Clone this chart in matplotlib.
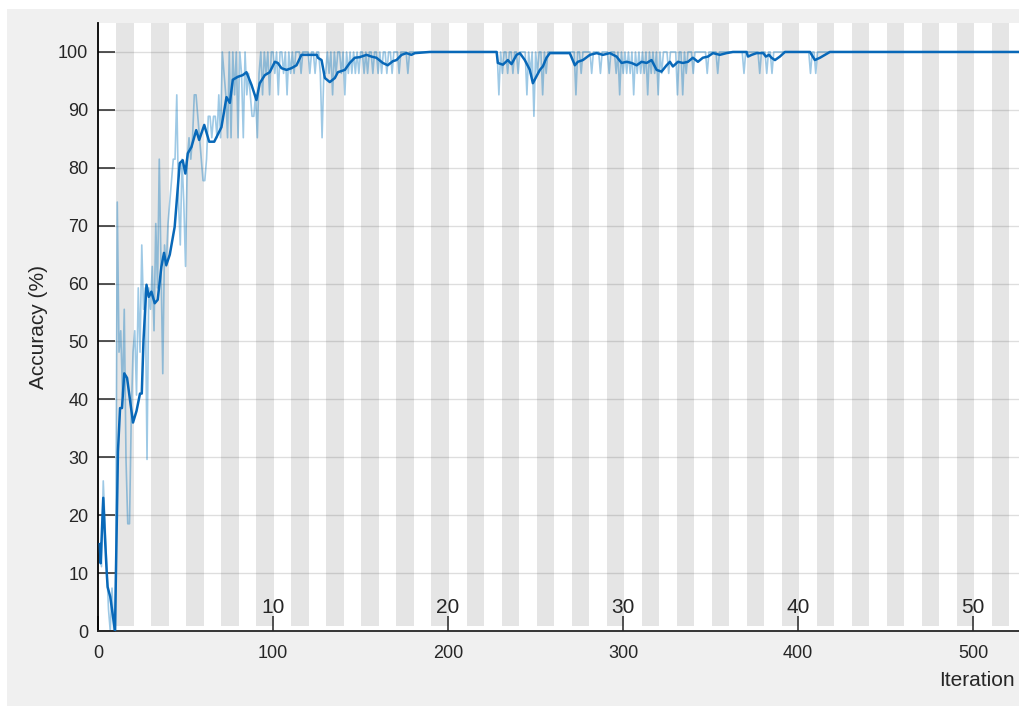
import numpy as np
import matplotlib.pyplot as plt
from matplotlib.patches import Rectangle

plt.rcParams['font.family'] = ['Liberation Sans', 'DejaVu Sans']

# mini-batch of 27 images -> accuracy steps of 100/27 %
batch_size = 27
iters_per_epoch = 10
last_iteration = 530

# correct predictions per mini-batch, iterations 1..190
raw_correct_early = [
    4, 3, 7, 5, 3, 1, 0, 2, 0, 0,
    20, 13, 14, 11, 15, 8, 5, 5, 10, 13,
    14, 11, 16, 13, 18, 15, 16, 8, 16, 15,
    17, 14, 19, 16, 22, 17, 12, 18, 17, 19,
    20, 21, 22, 22, 25, 20, 18, 22, 20, 17,
    22, 23, 22, 23, 25, 25, 24, 23, 22, 21,
    21, 22, 24, 24, 23, 24, 24, 23, 25, 23,
    27, 26, 25, 23, 27, 23, 27, 25, 27, 23,
    27, 26, 23, 27, 25, 26, 25, 24, 24, 25,
    23, 26, 27, 25, 27, 26, 27, 25, 27, 27,
    26, 27, 25, 27, 27, 26, 27, 25, 27, 26,
    27, 26, 27, 27, 27, 26, 27, 27, 27, 27,
    26, 27, 27, 26, 27, 27, 26, 23, 26, 26,
    27, 26, 27, 25, 27, 26, 27, 27, 26, 27,
    25, 27, 26, 27, 26, 27, 26, 27, 26, 27,
    27, 26, 27, 26, 27, 27, 26, 27, 27, 26,
    27, 26, 27, 27, 26, 27, 27, 26, 27, 27,
    27, 26, 27, 27, 27, 27, 26, 27, 27, 27,
    27, 27, 27, 27, 27, 27, 27, 27, 27, 27,
]

# later iterations are 27/27 except these
dip_iters = [229, 231, 234, 237, 240, 245, 247, 249, 251, 254, 256,
             273, 276, 282, 287, 292, 296, 298, 300, 302, 304, 306,
             308, 310, 312, 314, 316, 318, 320, 322, 326, 331, 334,
             336, 340, 348, 354, 369, 378, 382, 385, 407, 410]
dip_correct = [25, 26, 26, 26, 26, 25, 26, 24, 26, 25, 26,
               25, 26, 26, 26, 26, 26, 25, 26, 26, 26, 25,
               26, 26, 26, 25, 26, 26, 25, 26, 26, 25, 25,
               26, 26, 26, 26, 26, 26, 26, 26, 26, 26]

# smoothed accuracy
smooth_iter = [1, 1.5, 3, 4, 5, 5.5, 7, 9.7, 11.4, 12.6, 13.7, 15, 16.6, 18,
               20, 22, 24, 25, 26, 27.7, 29, 30.5, 32.4, 34.1, 36.2, 37.7,
               39, 41, 43.8, 46.7, 48.4, 49.9, 51.3, 53.4, 56.1, 57.8, 60.7,
               63.5, 66.4, 70.5, 73.4, 75.3, 77, 79.8, 82.7, 84.8, 87.7,
               90.5, 92.4, 95.3, 98.1, 101, 102.7, 104.8, 107.7, 110.5,
               113.4, 116.2, 125, 125.6, 127.7, 129.6, 132.4, 135.3, 137,
               141, 143.8, 146.7, 149.5, 153.4, 156.2, 159, 162.7, 165.5,
               168.4, 170.5, 173.4, 176.2, 179, 181, 189.5,
               227.7, 228.4, 231.3, 234.1, 236.2, 239.1, 241, 243.8, 246.7,
               248.4, 250.5, 252.4, 254.1, 256.2, 258.1, 269.5, 272.4,
               274.1, 277, 281, 284.8, 288.4, 292.4, 296.2, 299.1, 302,
               304.8, 307.7, 310.5, 313.4, 316.2, 319.1, 321.9, 324.8,
               326.7, 328.4, 331.3, 334.1, 337, 339.8, 342.7, 345.5, 348.4,
               351.3, 355.2, 359, 362.7, 370.5, 371.3, 373.4, 376.2, 380,
               381.5, 383.3, 384.7, 386.7, 389.5, 392.4, 406.7, 409.5,
               412.4, 415.2, 418.1, 530]
smooth_acc = [15, 11.7, 23, 16, 10, 7.6, 5.9, 0, 31, 38.5, 38.5, 44.5, 43.7,
              40.5, 36, 38, 41, 41, 50.3, 59.8, 57.7, 58.6, 56.6, 57.2, 62.9,
              65.3, 63.2, 65, 69.8, 80.8, 81.3, 79, 82.5, 83.6, 86.5, 84.8,
              87.4, 84.5, 84.5, 87, 92.2, 91.2, 95.2, 95.7, 96, 96.5, 94.3,
              91.7, 94.6, 96, 96.5, 98.3, 98.1, 97.2, 96.9, 97.2, 97.7,
              99.5, 99.5, 99, 98.6, 95.5, 94.8, 95.5, 96.5, 96.9, 98.1, 99,
              99.1, 99.5, 99.2, 99, 98.1, 97.7, 98.4, 98.6, 99.5, 99.8, 99.5,
              99.8, 100,
              100, 98.1, 97.8, 98.6, 97.9, 99.5, 99.8, 98.6, 96.9, 94.6,
              95.8, 96.9, 97.5, 99, 99.8, 99.8, 97.7, 98.3, 98.6, 99.5,
              99.8, 99.5, 99.8, 99.2, 98.1, 98.3, 98.1, 97.7, 98.3, 98.1,
              98.6, 96.9, 96.6, 97.7, 98.3, 97.5, 98.3, 98.1, 98.3, 99,
              98.3, 99, 99.2, 99.8, 99.5, 99.8, 100, 100, 99.2, 99.5, 99.8,
              99.8, 99.2, 99.5, 99, 98.6, 99.2, 100, 100, 98.6, 99, 99.5,
              100, 100]

epoch_labels = [10, 20, 30, 40, 50]

raw_correct = np.full(last_iteration, batch_size)
raw_correct[:len(raw_correct_early)] = raw_correct_early
raw_correct[np.array(dip_iters) - 1] = dip_correct
raw_acc = raw_correct / batch_size * 100
iters = np.arange(1, last_iteration + 1)

W, H = 1019, 711
fig = plt.figure(figsize=(W / 100, H / 100), dpi=100, facecolor='white')
fig.patches.append(Rectangle((7 / W, 5 / H), 1, (706 - 9) / H,
                             transform=fig.transFigure, facecolor='#f0f0f0',
                             edgecolor='none', zorder=-10))

ax = fig.add_axes([98 / W, 80 / H, (W - 98) / W, 608 / H])
ax.set_facecolor('white')
ax.set_xlim(0, 526.1)
ax.set_ylim(0, 105)

# alternating epoch bands
n_epochs = last_iteration // iters_per_epoch + 1
for e in range(2, n_epochs + 1, 2):
    ax.axvspan((e - 1) * iters_per_epoch + 0.5, e * iters_per_epoch + 0.5,
               ymin=0.008, ymax=1, color='#e5e5e5', lw=0, zorder=0)

ax.set_axisbelow(True)
ax.yaxis.grid(True, color='#262626', alpha=0.15, lw=1)

ax.plot(iters, raw_acc, color='#0072BD', alpha=0.38, lw=1.2, zorder=2)
ax.plot(smooth_iter, smooth_acc, color='#0868b8', lw=1.8, zorder=3)

for e in epoch_labels:
    ax.text(e * iters_per_epoch, 3.1, str(e), ha='center', va='baseline',
            fontsize=15, color='#262626')

for s in ['top', 'right']:
    ax.spines[s].set_visible(False)
ax.spines['left'].set_color('#000000')
ax.spines['left'].set_linewidth(1.3)
ax.spines['bottom'].set_color('#262626')
ax.spines['bottom'].set_linewidth(1.3)

ax.set_yticks(range(0, 101, 10))
ax.set_xticks(range(0, 501, 100))
ax.tick_params(axis='y', direction='in', length=12, width=1.1,
               colors='#262626', labelsize=13, pad=7)
ax.tick_params(axis='x', direction='in', length=11, width=1.1,
               colors='#262626', labelsize=13, pad=10)

fig.text(38 / W, 1 - 327 / H, 'Accuracy (%)', rotation=90, ha='center',
         va='center', fontsize=15, color='#262626')
fig.text(1015 / W, 1 - 680 / H, 'Iteration', ha='right', va='center',
         fontsize=15, color='#262626')

fig.savefig('out.png', dpi=100)
